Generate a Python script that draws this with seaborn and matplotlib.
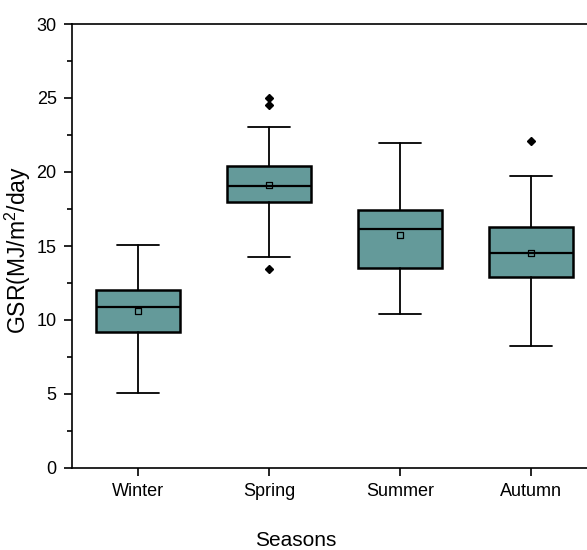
import matplotlib
matplotlib.use("Agg")
import matplotlib.pyplot as plt
import seaborn as sns
import numpy as np
from matplotlib.ticker import MultipleLocator

# ---- data ----
seasons = ["Winter", "Spring", "Summer", "Autumn"]
whisker_low = [5.07, 14.28, 10.38, 8.24]
q1 = [9.19, 17.97, 13.51, 12.93]
median = [10.88, 19.05, 16.15, 14.50]
q3 = [12.03, 20.43, 17.43, 16.26]
whisker_high = [15.07, 23.06, 21.98, 19.73]
means = [10.62, 19.10, 15.77, 14.55]
outliers = [[], [13.43, 24.50, 25.00], [], [22.10]]
y_ticks = [0, 5, 10, 15, 20, 25, 30]

sns.set_theme(style="ticks")
plt.rcParams["font.family"] = ["Liberation Sans", "DejaVu Sans"]
plt.rcParams["mathtext.default"] = "regular"

fig = plt.figure(figsize=(5.87, 5.5), dpi=100)
ax = fig.add_axes([72 / 587, 1 - 468 / 550, 525 / 587, 444 / 550])

fill = "#649a9a"
positions = np.arange(len(seasons))
stats = []
for i, s in enumerate(seasons):
    stats.append(dict(label=s, whislo=whisker_low[i], q1=q1[i], med=median[i],
                      q3=q3[i], whishi=whisker_high[i], mean=means[i],
                      fliers=outliers[i]))

ax.bxp(stats, positions=positions, widths=0.64, capwidths=0.32,
       patch_artist=True, showmeans=False, manage_ticks=False,
       boxprops=dict(facecolor=fill, edgecolor="black", linewidth=1.8),
       medianprops=dict(color="black", linewidth=1.6),
       whiskerprops=dict(color="black", linewidth=1.3),
       capprops=dict(color="black", linewidth=1.3),
       flierprops=dict(marker="D", markerfacecolor="black",
                       markeredgecolor="black", markersize=4.2))

sns.scatterplot(x=positions, y=means, marker="s", s=18, facecolor="none",
                edgecolor="black", linewidth=0.9, ax=ax, zorder=5)

ax.set_xlim(-0.5, 3.5)
ax.set_ylim(0, 30)
ax.set_xticks(positions)
ax.set_xticklabels(seasons)
ax.set_yticks(y_ticks)
ax.yaxis.set_minor_locator(MultipleLocator(2.5))

for side in ["left", "top", "bottom", "right"]:
    ax.spines[side].set_visible(True)
    ax.spines[side].set_color("black")
    ax.spines[side].set_linewidth(1.2)

ax.tick_params(axis="both", which="major", direction="out", length=6,
               width=1.2, color="black", labelsize=13, labelcolor="black")
ax.tick_params(axis="y", which="major", pad=5)
ax.tick_params(axis="x", which="major", pad=5)
ax.tick_params(axis="y", which="minor", direction="out", length=3.5,
               width=1.2, color="black")

ax.set_xlabel("Seasons", fontsize=15, color="black")
ax.xaxis.set_label_coords((296 - 72) / 525, (468 - 531) / 444)
ax.set_ylabel("GSR(MJ/m$^{2}$/day", fontsize=16.5, color="black")
ax.yaxis.set_label_coords((33 - 72) / 525, 0.49)

fig.savefig("out.png", dpi=100)
